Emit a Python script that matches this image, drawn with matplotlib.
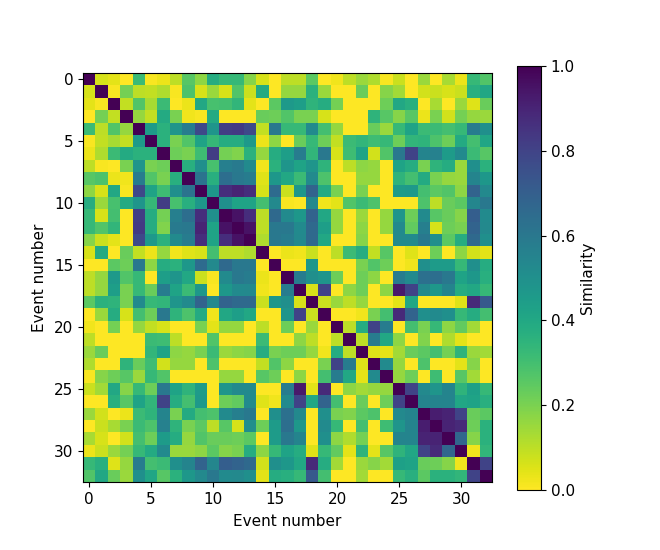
"""
Similarity matrix between events
"""

import numpy as np
import matplotlib
matplotlib.use("Agg")
import matplotlib.pyplot as plt

# upper triangle of the similarity matrix, each row starts right after the diagonal
row_00 = [.06, .04, 0, .32, .01, .03, .1, .26, .17, .38, .33, .33, .18, .06, 0, .1, .1, .25, 0, .02, .1, .15, .12, .01, .08, 0, .15, 0, .13, .03, .33, .27]
row_01 = [.01, .21, .1, .09, .12, .01, .28, .06, .15, .06, .27, .08, .39, 0, .16, .16, .36, .15, 0, 0, .23, 0, .18, .14, 0, .07, .08, .06, .08, .37, .4]
row_02 = [.09, .27, .13, .32, 0, .03, .4, .29, .3, .34, .04, 0, .25, .46, .44, .35, .38, .21, 0, 0, 0, .22, .4, .37, 0, .13, 0, .15, .05, .23]
row_03 = [.16, .09, .39, .2, .02, .01, .39, 0, 0, 0, .23, .22, .27, .2, .2, .06, 0, 0, 0, .35, .26, .18, .26, .03, .2, .07, .21, .16, .15]
row_04 = [.45, .36, .48, .58, .78, .48, .82, .83, .78, .09, .6, .33, .33, .52, .3, .16, 0, 0, .23, .15, .33, .42, .32, .32, .3, .33, .58, .5]
row_05 = [.36, .2, .27, .42, .33, .38, .38, .46, .03, .17, 0, .23, .33, .22, .09, .32, .34, .31, .33, .22, .34, .35, .28, .22, .39, .3, .41]
row_06 = [.22, .2, .31, .82, .21, .19, .36, .16, .38, .44, .58, .34, .6, .06, .31, .42, .07, .27, .6, .8, .55, .56, .45, .52, .32, .26]
row_07 = [.37, .5, .29, .57, .59, .52, .02, .36, .48, .42, .48, .35, 0, .1, .17, .16, 0, .42, .38, .2, .35, .38, .15, .5, .36]
row_08 = [.62, .37, .64, .6, .58, .05, .47, .4, .32, .52, .28, 0, 0, .16, .16, 0, .35, .3, .39, .2, .16, .15, .55, .47]
row_09 = [.47, .87, .9, .87, .06, .65, .08, .47, .68, .39, .2, 0, .2, 0, 0, .45, .46, .3, .25, .27, .17, .68, .53]
row_10 = [.5, .42, .42, .3, .53, .01, 0, .53, .02, .04, .27, .32, .28, 0, 0, 0, .28, .1, .23, .25, .54, .6]
row_11 = [.95, .87, .1, .66, .52, .47, .68, .4, .16, 0, .15, 0, .16, .48, .22, .52, .26, .23, .18, .7, .52]
row_12 = [.95, .1, .6, .6, .52, .66, .44, .16, 0, .17, 0, .16, .52, .24, .57, .06, .22, .2, .68, .53]
row_13 = [.12, .6, .58, .53, .66, .4, 0, 0, .18, 0, 0, .52, .52, .6, .5, .25, .38, .66, .5]
row_14 = [0, .03, .02, .08, 0, .1, .32, .38, .09, .26, 0, .05, 0, .22, 0, .17, .07, .04]
row_15 = [0, 0, .47, 0, 0, 0, .2, .27, .22, 0, .02, .5, .45, .45, .33, .5, .38]
row_16 = [.58, .5, .48, .22, 0, .22, .17, 0, .58, .52, .63, .64, .6, .42, .47, .37]
row_17 = [.06, .8, 0, .17, .22, 0, .17, .93, .8, .53, .47, .55, .38, .4, .33]
row_18 = [.08, .15, .1, .16, 0, 0, .04, .4, 0, 0, 0, .05, .88, .72]
row_19 = [0, 0, .02, .2, .3, .88, .68, .5, .52, .5, .33, .38, .3]
row_20 = [.1, .38, .8, .58, 0, .3, .2, .33, .17, .24, .14, 0]
row_21 = [.1, .58, .4, .17, 0, .19, 0, .12, .04, 0, 0]
row_22 = [.05, .04, .14, .23, .25, .3, .21, .35, .15, .14]
row_23 = [.52, .16, 0, .28, 0, 0, .04, .18, 0]
row_24 = [.16, .22, 0, .31, 0, .26, .14, 0]
row_25 = [.8, .53, .48, .55, .35, .43, .33]
row_26 = [.55, .55, .55, .41, .42, .37]
row_27 = [.92, .9, .8, .23, .25]
row_28 = [.9, .88, .22, .36]
row_29 = [.67, .18, .36]
row_30 = [.02, .34]
row_31 = [.8]

upper_rows = [row_00, row_01, row_02, row_03, row_04, row_05, row_06, row_07,
              row_08, row_09, row_10, row_11, row_12, row_13, row_14, row_15,
              row_16, row_17, row_18, row_19, row_20, row_21, row_22, row_23,
              row_24, row_25, row_26, row_27, row_28, row_29, row_30, row_31]

n_events = len(upper_rows) + 1
similarity = np.eye(n_events)
for i, row in enumerate(upper_rows):
    similarity[i, i + 1:] = row
    similarity[i + 1:, i] = row

fig = plt.figure(figsize=(6.6, 5.5), dpi=100)
ax = fig.add_axes([83 / 660, 1 - 482.5 / 550, 409 / 660, 409.5 / 550])
cax = fig.add_axes([517 / 660, 1 - 490 / 550, 24 / 660, 424 / 550])

im = ax.imshow(similarity, cmap="viridis_r", vmin=0, vmax=1)
ax.set_xticks(np.arange(0, n_events, 5))
ax.set_yticks(np.arange(0, n_events, 5))
ax.tick_params(labelsize=11)
ax.set_xlabel("Event number", fontsize=11, labelpad=4.7)
ax.set_ylabel("Event number", fontsize=11, labelpad=5)

cbar = fig.colorbar(im, cax=cax)
cbar.ax.tick_params(labelsize=11)
cbar.set_label("Similarity", fontsize=11, labelpad=3.4)

fig.savefig("out.png", dpi=100)
